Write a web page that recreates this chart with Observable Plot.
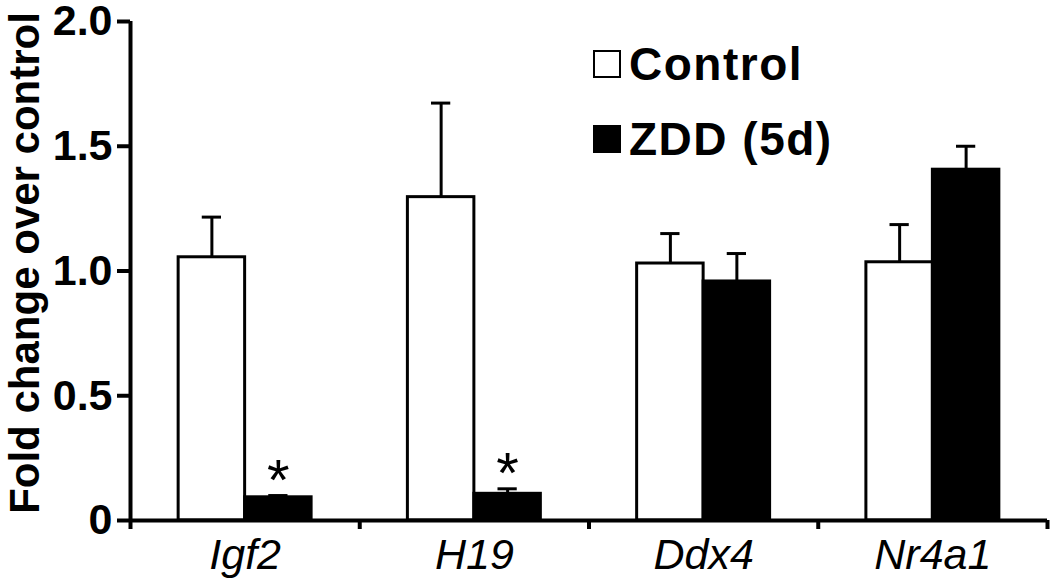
<!DOCTYPE html>
<html>
<head>
<meta charset="utf-8">
<script src="https://cdn.jsdelivr.net/npm/d3@7"></script>
<script src="https://cdn.jsdelivr.net/npm/@observablehq/plot@0.6"></script>
<style>
  html, body { margin: 0; padding: 0; background: #fff; }
  #wrap { position: relative; width: 1050px; height: 584px; font-family: "Liberation Sans", Arial, sans-serif; }
  #legend { position: absolute; left: 593px; top: 44px; font-weight: bold; font-size: 46px; letter-spacing: 1.5px; color: #000; }
  .item { display: flex; align-items: center; height: 40px; margin-bottom: 35px; }
  .sw { width: 24px; height: 24px; border: 2.5px solid #000; margin-right: 8px; box-sizing: content-box; }
</style>
</head>
<body>
<div id="wrap"></div>
<script>
const genes = ["Igf2", "H19", "Ddx4", "Nr4a1"];
const series = ["Control", "ZDD (5d)"];
const controlMean = [1.055, 1.296, 1.03, 1.035];
const controlErrTop = [1.216, 1.673, 1.15, 1.186];
const zddMean = [0.093, 0.107, 0.958, 1.406];
const zddErrTop = [0.10, 0.127, 1.07, 1.50];
const significant = ["Igf2", "H19"];
const yTicks = [0, 0.5, 1.0, 1.5, 2.0];
const yLabel = "Fold change over control";

const W = 0.29; // bar width in group units
const rows = [];
genes.forEach((g, i) => {
  rows.push({gene: g, i, series: series[0], side: -1, v: controlMean[i], e: controlErrTop[i]});
  rows.push({gene: g, i, series: series[1], side: 1, v: zddMean[i], e: zddErrTop[i]});
});
const x1 = d => d.side < 0 ? d.i + 0.5 - W : d.i + 0.5;
const x2 = d => d.side < 0 ? d.i + 0.5 : d.i + 0.5 + W;
const xc = d => d.i + 0.5 + d.side * W / 2;
const stars = rows.filter(d => d.side > 0 && significant.includes(d.gene));

const font = "Liberation Sans, Arial, sans-serif";
const chart = Plot.plot({
  width: 1050,
  height: 584,
  marginLeft: 130,
  marginRight: 3,
  marginTop: 21,
  marginBottom: 64,
  style: {fontFamily: font, color: "#000", background: "#fff", overflow: "visible"},
  x: {type: "linear", domain: [0, 4]},
  y: {domain: [0, 2]},
  marks: [
    Plot.ruleX(rows, {x: xc, y1: "v", y2: "e", stroke: "#000", strokeWidth: 3}),
    Plot.ruleY(rows, {x1: d => xc(d) - 0.042, x2: d => xc(d) + 0.042, y: "e", stroke: "#000", strokeWidth: 3}),
    Plot.rect(rows, {x1, x2, y1: 0, y2: "v", fill: d => d.side < 0 ? "#fff" : "#000", stroke: "#000", strokeWidth: 3}),
    Plot.text(stars, {x: xc, y: "e", text: () => "*", fontSize: 58, lineAnchor: "middle", dy: -14, fill: "#000"}),
    Plot.axisY({ticks: yTicks, tickSize: 13, tickPadding: 5, strokeWidth: 4, fontSize: 43, fontWeight: "bold",
      tickFormat: d => d === 0 ? "0" : d.toFixed(1), label: null}),
    Plot.axisX({ticks: [0, 1, 2, 3, 4], tickSize: 9, strokeWidth: 4, tickFormat: () => "", label: null}),
    Plot.axisX({ticks: genes.map((g, i) => i + 0.5), tickSize: 0, tickPadding: 18, fontSize: 43, fontStyle: "italic",
      tickFormat: d => genes[Math.round(d - 0.5)], label: null}),
    Plot.ruleX([0], {y1: 0, y2: 2, stroke: "#000", strokeWidth: 4}),
    Plot.ruleY([0], {stroke: "#000", strokeWidth: 4}),
    Plot.text([yLabel], {frameAnchor: "left", textAnchor: "middle", rotate: -90, dx: -105, dy: -8,
      fontSize: 42, fontWeight: "bold", fill: "#000"})
  ]
});
const wrap = document.getElementById("wrap");
wrap.appendChild(chart);
const legend = document.createElement("div");
legend.id = "legend";
series.forEach((s, k) => {
  const item = document.createElement("div");
  item.className = "item";
  const sw = document.createElement("div");
  sw.className = "sw";
  sw.style.background = k === 0 ? "#fff" : "#000";
  const t = document.createElement("span");
  t.textContent = s;
  item.appendChild(sw);
  item.appendChild(t);
  legend.appendChild(item);
});
wrap.appendChild(legend);
</script>
</body>
</html>
